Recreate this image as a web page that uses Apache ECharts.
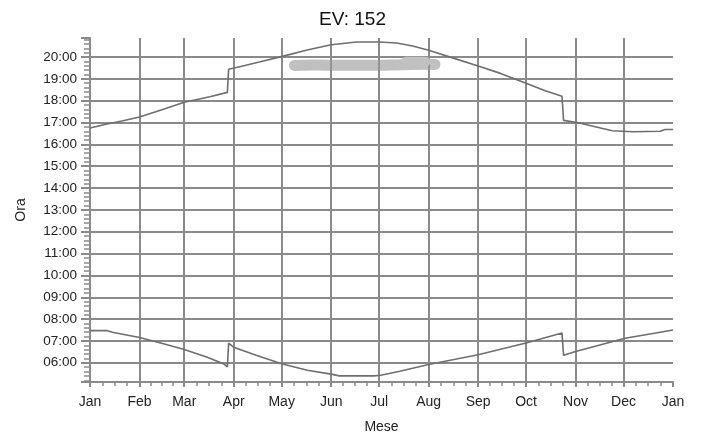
<!DOCTYPE html>
<html><head><meta charset="utf-8">
<script src="https://cdn.jsdelivr.net/npm/echarts@6/dist/echarts.min.js"></script>
<style>html,body{margin:0;padding:0;background:#fff}#c{width:705px;height:439px}</style>
</head><body><div id="c"></div>
<script>
// ---- data ----
const YEAR = 2021;
const monthLabels = ['Jan','Feb','Mar','Apr','May','Jun','Jul','Aug','Sep','Oct','Nov','Dec'];
const hourMin = 5.12, hourMax = 20.87;

// upper curve (day of year offset, hour)
const upperDays  = [0, 10, 20, 31, 45, 59, 75, 86, 86.8, 95, 106, 121, 136, 151, 167, 181, 192, 202, 212, 227, 244, 257, 273, 285, 295.5, 296.5, 305, 319, 327, 340, 357, 360, 365];
const upperHours = [16.75, 16.92, 17.07, 17.25, 17.58, 17.93, 18.18, 18.38, 19.44, 19.58, 19.77, 20.04, 20.32, 20.56, 20.69, 20.69, 20.64, 20.50, 20.31, 19.96, 19.56, 19.25, 18.80, 18.45, 18.20, 17.10, 17.00, 16.76, 16.62, 16.58, 16.60, 16.68, 16.68];

// lower curve
const lowerDays  = [0, 11, 14, 31, 46, 59, 73, 83.5, 86, 86.8, 90, 104, 120, 136, 151, 156, 178, 182, 194, 212, 243, 273, 295.5, 296.5, 304, 335, 357, 365];
const lowerHours = [7.47, 7.47, 7.40, 7.16, 6.87, 6.61, 6.26, 5.96, 5.81, 6.90, 6.71, 6.34, 5.96, 5.66, 5.48, 5.40, 5.40, 5.43, 5.61, 5.92, 6.37, 6.91, 7.36, 6.34, 6.52, 7.12, 7.40, 7.50];

// event band (EV)
const bandDays  = [128, 140, 160, 180, 195, 208, 216];
const bandHours = [19.61, 19.63, 19.62, 19.62, 19.65, 19.67, 19.66];
const band2Days  = [198, 210];
const band2Hours = [19.78, 19.78];

// ---- chart ----
const DAY = 86400000;
const t0 = Date.UTC(YEAR, 0, 1);
const t1 = Date.UTC(YEAR + 1, 0, 1);
function pts(days, hours) { return days.map((d, i) => [t0 + d * DAY, hours[i]]); }
function pad(n) { return (n < 10 ? '0' : '') + n; }

const GRID = '#8a8a8a';
const FONT = 'Liberation Sans';
const chart = echarts.init(document.getElementById('c'), null, {renderer: 'canvas'});
chart.setOption({
  useUTC: true,
  animation: false,
  title: {text: 'EV: 152', left: 'center', top: 5,
    textStyle: {fontFamily: FONT, fontSize: 19, fontWeight: 'normal', color: '#111'}},
  grid: {left: 90, right: 32, top: 38, bottom: 52},
  xAxis: {
    type: 'time', min: t0, max: t1, minInterval: 28 * DAY, maxInterval: 31 * DAY,
    name: 'Mese', nameLocation: 'middle', nameGap: 38,
    nameTextStyle: {fontFamily: FONT, fontSize: 14, color: '#222'},
    axisLine: {lineStyle: {color: GRID, width: 2}},
    axisTick: {length: 5, lineStyle: {color: GRID, width: 2}},
    minorTick: {show: true, splitNumber: 4, length: 4, lineStyle: {color: GRID, width: 1.5}},
    splitLine: {show: true, showMinLine: false, showMaxLine: false, lineStyle: {color: GRID, width: 2}},
    axisLabel: {formatter: v => monthLabels[new Date(v).getUTCMonth()], color: '#222',
      fontFamily: FONT, fontSize: 14, margin: 13, hideOverlap: false,
      showMinLabel: true, showMaxLabel: true}
  },
  yAxis: {
    type: 'value', min: hourMin, max: hourMax, splitNumber: 15,
    name: 'Ora', nameLocation: 'middle', nameGap: 62, nameRotate: 90,
    nameTextStyle: {fontFamily: FONT, fontSize: 14, color: '#222'},
    axisLine: {show: true, lineStyle: {color: GRID, width: 2}},
    axisTick: {show: true, length: 9, lineStyle: {color: GRID, width: 2}},
    minorTick: {show: true, splitNumber: 5, length: 6, lineStyle: {color: GRID, width: 1.5}},
    splitLine: {show: true, showMinLine: false, showMaxLine: false, lineStyle: {color: GRID, width: 2}},
    axisLabel: {
      formatter: v => { const r = Math.round(v); return Math.abs(v - r) < 1e-6 ? pad(r) + ':00' : ''; },
      showMinLabel: false, showMaxLabel: false,
      color: '#222', fontFamily: FONT, fontSize: 13.5, margin: 13
    }
  },
  series: [
    {type: 'line', data: pts(bandDays, bandHours), showSymbol: false, smooth: true, z: 1,
      lineStyle: {color: '#999', opacity: 0.62, width: 11, cap: 'round'}},
    {type: 'line', data: pts(band2Days, band2Hours), showSymbol: false, z: 2,
      lineStyle: {color: '#c1c1c1', width: 10, cap: 'round'}},
    {type: 'line', data: pts(upperDays, upperHours), showSymbol: false, z: 3,
      lineStyle: {color: '#6e6e6e', width: 1.6}},
    {type: 'line', data: pts(lowerDays, lowerHours), showSymbol: false, z: 3,
      lineStyle: {color: '#6e6e6e', width: 1.6}}
  ]
});
</script>
</body></html>
